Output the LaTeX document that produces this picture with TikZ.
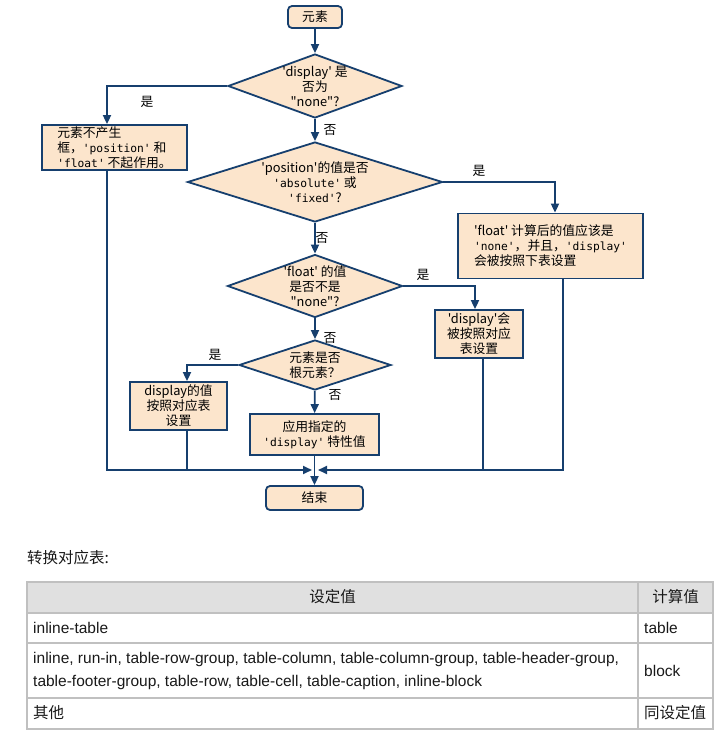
\documentclass[tikz,border=0pt]{standalone}
\usepackage{fontspec}
\setmainfont{Noto Sans CJK SC}[Ligatures=TeXOff]
\newfontfamily\arial{Liberation Sans}[Ligatures=TeXOff]
\newfontfamily\mono{DejaVu Sans Mono}[Scale=0.88,Ligatures=TeXOff]
\usepackage{tikz}
\usetikzlibrary{shapes.geometric, arrows.meta}

\definecolor{boxfill}{RGB}{252,229,204}
\definecolor{boxline}{RGB}{22,63,110}
\definecolor{headfill}{RGB}{224,224,224}
\definecolor{tabline}{RGB}{192,192,192}

\tikzset{
	chartfont/.style={font=\fontsize{12.8}{15}\selectfont},
	startstop/.style={rectangle, rounded corners=4pt, draw=boxline, fill=boxfill, line width=1.8pt, inner sep=0pt, chartfont},
	process/.style={rectangle, draw=boxline, fill=boxfill, line width=1.8pt, inner sep=0pt, chartfont},
	decision/.style={diamond, draw=boxline, fill=boxfill, line width=1.8pt, inner sep=-4pt, align=center, chartfont},
	arrow/.style={draw=boxline, line width=1.8pt, -{Triangle[length=9pt,width=8pt]}},
	link/.style={draw=boxline, line width=1.8pt},
	yesno/.style={chartfont, inner sep=0pt},
	tabtext/.style={font=\fontsize{15.5}{23}\selectfont, inner sep=0pt, text=black!90},
}

\begin{document}
\begin{tikzpicture}[x=1pt, y=-1pt]
		\useasboundingbox (0,0) rectangle (724,737);
		% flowchart
		\node (start) [startstop, minimum width=54, minimum height=22] at (315,17) {元素};
		\node (d1) [decision, minimum width=174, minimum height=64, shape aspect=2.72] at (315,86) {'display' 是\\否为\\"none"?};
		\node (box1) [process, minimum width=145, minimum height=45, align=left] at (114.5,147.5) {元素不产生\\框，{\mono 'position'} 和\\{\mono 'float'} 不起作用。};
		\node (d2) [decision, minimum width=255, minimum height=80, shape aspect=3.19] at (315,182) {'position'的值是否\\{\mono 'absolute'} 或\\{\mono 'fixed'}?};
		\node (box2) [process, minimum width=185, minimum height=65, align=left] at (550.5,246) {'float' 计算后的值应该是\\{\mono 'none'}，并且，{\mono 'display'}\\会被按照下表设置};
		\node (d3) [decision, minimum width=175, minimum height=63, shape aspect=2.78] at (315,286) {'float' 的值\\是否不是\\"none"?};
		\node (box3) [process, minimum width=88, minimum height=48, align=center] at (479,334) {'display'会\\被按照对应\\表设置};
		\node (d4) [decision, minimum width=152, minimum height=50, shape aspect=3.04] at (315,365) {元素是否\\根元素？};
		\node (box4) [process, minimum width=97, minimum height=48, align=center] at (178.5,406) {display的值\\按照对应表\\设置};
		\node (box5) [process, minimum width=129, minimum height=41, align=center] at (314.5,434.5) {应用指定的\\{\mono 'display'} 特性值};
		\node (end) [startstop, minimum width=97, minimum height=24] at (314.5,498) {结束};
		\coordinate (join) at (315,470);

		% yes / no labels
		\node (yes1) [yesno] at (147,102) {是};
		\node (no1) [yesno] at (330,130) {否};
		\node (yes2) [yesno] at (479,171) {是};
		\node (no2) [yesno] at (322,238) {否};
		\node (yes3) [yesno] at (423,275) {是};
		\node (no3) [yesno] at (330,338) {否};
		\node (yes4) [yesno] at (215,355) {是};
		\node (no4) [yesno] at (335,395) {否};

		% connectors
		\draw [arrow] (start) -- (d1);
		\draw [arrow] (d1.west) -| ([xshift=-7.5]box1.north);
		\draw [arrow] (d1) -- (d2);
		\draw [arrow] (d2.east) -| ([xshift=4.5]box2.north);
		\draw [arrow] (d2) -- (d3);
		\draw [arrow] (d3.east) -| ([xshift=-4]box3.north);
		\draw [arrow] (d3) -- (d4);
		\draw [arrow] (d4.west) -| ([xshift=8.5]box4.north);
		\draw [arrow] (d4) -- (box5);
		\draw [arrow] (box5) -- (end);
		\draw [arrow] ([xshift=-7.5]box1.south) |- ([xshift=-3]join);
		\draw [link] ([xshift=8.5]box4.south) -- ([xshift=8.5]box4.south |- join);
		\draw [arrow] ([xshift=12.5]box2.south) |- ([xshift=3]join);
		\draw [link] ([xshift=4]box3.south) -- ([xshift=4]box3.south |- join);

		% table
		\node (caption) [tabtext, anchor=west] at (27,558) {转换对应表:};
		\draw [tabline, line width=1.2pt, fill=headfill] (27,582) rectangle (713,613);
		\draw [tabline, line width=1.2pt] (27,613) rectangle (713,729);
		\draw [tabline, line width=1.2pt] (27,643) -- (713,643);
		\draw [tabline, line width=1.2pt] (27,698) -- (713,698);
		\draw [tabline, line width=1.2pt] (638,582) -- (638,729);
		\node (head1) [tabtext] at (332.5,597) {设定值};
		\node (head2) [tabtext] at (675.5,597) {计算值};
		\node (set1) [tabtext, anchor=west] at (33,628) {\arial inline-table};
		\node (val1) [tabtext, anchor=west] at (644,628) {\arial table};
		\node (set2) [tabtext, anchor=west, align=left] at (33,671) {\arial inline, run-in, table-row-group, table-column, table-column-group, table-header-group,\\\arial table-footer-group, table-row, table-cell, table-caption, inline-block};
		\node (val2) [tabtext, anchor=west] at (644,671) {\arial block};
		\node (set3) [tabtext, anchor=west] at (33,713) {其他};
		\node (val3) [tabtext, anchor=west] at (644,713) {同设定值};
	\end{tikzpicture}
\end{document}
